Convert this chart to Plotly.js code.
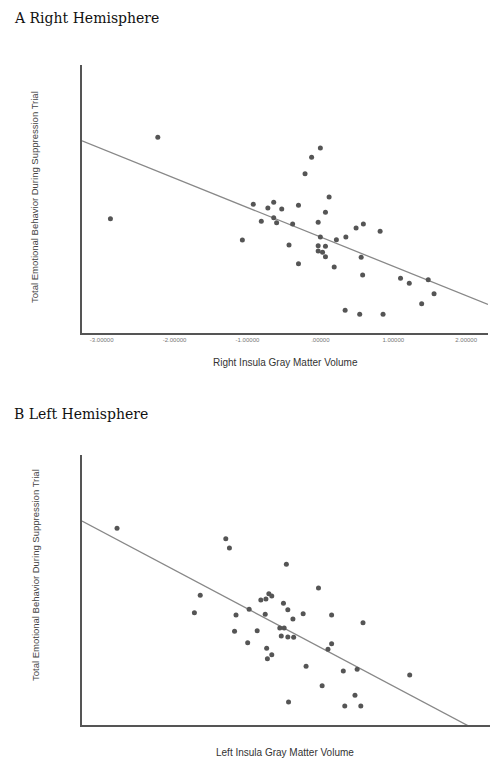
<!DOCTYPE html>
<html>
<head>
<meta charset="utf-8">
<script src="https://cdn.plot.ly/plotly-3.0.1.min.js"></script>
<style>html,body{margin:0;padding:0;background:#fff;}#chart{width:490px;height:765px;}</style>
</head>
<body>
<div id="chart"></div>
<script>
// Panel A: Right hemisphere
const rightX = [-2.23,0.00,-0.12,-0.21,0.12,-0.92,-0.64,-0.72,-0.53,-0.30,0.07,-2.88,-0.81,-0.64,-0.60,-0.38,-0.03,0.49,0.59,0.82,-1.07,-0.43,0.00,0.22,0.35,-0.03,0.07,-0.03,0.03,0.07,0.56,-0.30,0.19,0.58,1.10,1.22,1.48,1.56,1.39,0.34,0.54,0.86];
const rightY = [19.57,18.5,17.57,15.93,13.6,12.87,13.07,12.5,12.4,12.77,12.07,11.43,11.17,11.53,11.03,10.9,11.07,10.5,10.9,10.17,9.3,8.8,9.6,9.33,9.6,8.73,8.67,8.2,8.07,7.63,7.57,6.93,6.6,5.8,5.47,4.97,5.33,3.93,2.93,2.27,1.87,1.87];
const rightFit = {intercept: 9.61, slope: -2.94};

// Panel B: Left hemisphere
const leftX = [-2.78,-1.29,-1.24,-0.46,-0.02,-1.64,-1.72,-0.70,-0.66,-0.81,-0.74,-0.50,-0.97,-0.44,-1.15,-0.75,-0.23,-0.37,0.16,0.59,-0.55,-0.49,-1.17,-0.86,-0.53,-0.44,-0.36,-0.99,0.16,0.11,-0.73,-0.66,-0.72,-0.19,0.32,0.51,1.23,0.03,0.48,-0.43,0.34,0.56];
const leftY = [19.67,18.63,17.7,16.07,13.7,12.97,11.23,13.13,12.9,12.5,12.6,12.17,11.57,11.53,11.0,11.07,11.13,10.6,11.0,10.23,9.7,9.7,9.37,9.43,8.9,8.8,8.77,8.23,8.13,7.57,7.67,7.03,6.63,5.87,5.4,5.57,5.0,3.93,2.97,2.3,1.9,1.9];
const leftFit = {intercept: 7.78, slope: -3.87};

const tickVals = [-3, -2, -1, 0, 1, 2];
const tickText = ["-3.00000", "-2.00000", "-1.00000", ".00000", "1.00000", "2.00000"];

const panelTitles = ["A Right Hemisphere", "B Left Hemisphere"];
const xTitles = ["Right Insula Gray Matter Volume", "Left Insula Gray Matter Volume"];
const yTitle = "Total Emotional Behavior During Suppression Trial";

const xRangeA = [-3.27, 2.30];
const xRangeB = [-3.26, 2.33];
const yRangeA = [0, 26.8];
const yRangeB = [0, 27.0];

function fitLine(fit, range) {
  return {x: [range[0], range[1]], y: [fit.intercept + fit.slope * range[0], fit.intercept + fit.slope * range[1]]};
}
const fa = fitLine(rightFit, xRangeA);
const fb = fitLine(leftFit, xRangeB);

const markerStyle = {color: '#555', size: 5};
const lineStyle = {color: '#888', width: 1.3};

const data = [
  {x: fa.x, y: fa.y, mode: 'lines', line: lineStyle, xaxis: 'x', yaxis: 'y', hoverinfo: 'skip'},
  {x: rightX, y: rightY, mode: 'markers', marker: markerStyle, xaxis: 'x', yaxis: 'y'},
  {x: fb.x, y: fb.y, mode: 'lines', line: lineStyle, xaxis: 'x2', yaxis: 'y2', hoverinfo: 'skip'},
  {x: leftX, y: leftY, mode: 'markers', marker: markerStyle, xaxis: 'x2', yaxis: 'y2'}
];

const axisLine = {showline: true, linecolor: '#555', linewidth: 2, showgrid: false, zeroline: false, mirror: false};

const layout = {
  width: 490, height: 765,
  margin: {l: 0, r: 0, t: 0, b: 0},
  paper_bgcolor: '#fff', plot_bgcolor: '#fff',
  showlegend: false,
  xaxis: Object.assign({}, axisLine, {domain: [82/490, 488/490], range: xRangeA, anchor: 'y',
    tickvals: tickVals, ticktext: tickText, ticks: '', tickfont: {family: 'Liberation Sans, Arial, sans-serif', size: 6, color: '#777'}}),
  yaxis: Object.assign({}, axisLine, {domain: [(765-333)/765, (765-65)/765], range: yRangeA, anchor: 'x',
    showticklabels: false, ticks: ''}),
  xaxis2: Object.assign({}, axisLine, {domain: [82/490, 490/490], range: xRangeB, anchor: 'y2',
    showticklabels: false, ticks: ''}),
  yaxis2: Object.assign({}, axisLine, {domain: [(765-725)/765, (765-455)/765], range: yRangeB, anchor: 'x2',
    showticklabels: false, ticks: ''}),
  annotations: [
    {text: panelTitles[0], xref: 'paper', yref: 'paper', x: 12/490, y: 1 - 18/765, xanchor: 'left', yanchor: 'middle', showarrow: false,
      font: {family: 'DejaVu Serif, serif', size: 14, color: '#111'}},
    {text: panelTitles[1], xref: 'paper', yref: 'paper', x: 12/490, y: 1 - 414/765, xanchor: 'left', yanchor: 'middle', showarrow: false,
      font: {family: 'DejaVu Serif, serif', size: 14, color: '#111'}},
    {text: xTitles[0], xref: 'paper', yref: 'paper', x: 285/490, y: 1 - 362/765, xanchor: 'center', yanchor: 'middle', showarrow: false,
      font: {family: 'Liberation Sans, Arial, sans-serif', size: 10, color: '#333'}},
    {text: xTitles[1], xref: 'paper', yref: 'paper', x: 285/490, y: 1 - 752/765, xanchor: 'center', yanchor: 'middle', showarrow: false,
      font: {family: 'Liberation Sans, Arial, sans-serif', size: 10, color: '#333'}},
    {text: yTitle, xref: 'paper', yref: 'paper', x: 35/490, y: 1 - 197/765, xanchor: 'center', yanchor: 'middle', showarrow: false, textangle: -90,
      font: {family: 'Liberation Sans, Arial, sans-serif', size: 9.5, color: '#444'}},
    {text: yTitle, xref: 'paper', yref: 'paper', x: 35/490, y: 1 - 575/765, xanchor: 'center', yanchor: 'middle', showarrow: false, textangle: -90,
      font: {family: 'Liberation Sans, Arial, sans-serif', size: 9.5, color: '#444'}}
  ]
};

Plotly.newPlot('chart', data, layout, {staticPlot: true, displayModeBar: false});
</script>
</body>
</html>
